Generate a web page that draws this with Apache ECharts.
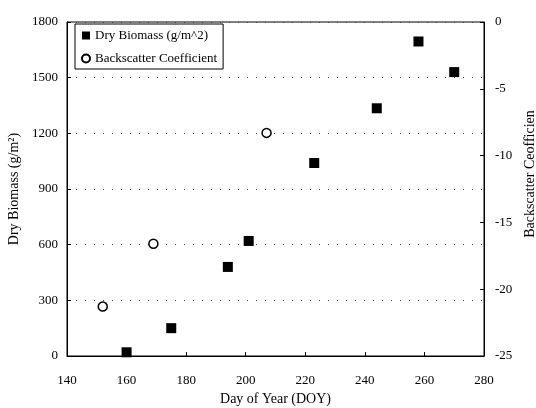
<!DOCTYPE html>
<html>
<head>
<meta charset="utf-8">
<script src="https://cdn.jsdelivr.net/npm/echarts@6/dist/echarts.min.js"></script>
<style>html,body{margin:0;padding:0;background:#fff;}#c{width:536px;height:408px;}</style>
</head>
<body>
<div id="c"></div>
<script>
var biomassDOY = [160, 175, 194, 201, 223, 244, 258, 270];
var biomass = [20, 150, 480, 620, 1040, 1335, 1695, 1530];
var backscatterDOY = [152, 169, 207];
var backscatter = [-21.3, -16.6, -8.3];

var F = 'Liberation Serif';
function zip(a, b) { return a.map(function (v, i) { return [v, b[i]]; }); }
function plain(v) { return String(v); }

var chart = echarts.init(document.getElementById('c'), null, {renderer: 'canvas'});
chart.setOption({
  animation: false,
  backgroundColor: '#fff',
  grid: {left: 67, right: 52, top: 22, bottom: 52, show: true, borderColor: '#000', borderWidth: 1,
         containLabel: false, outerBoundsMode: 'none'},
  legend: {
    orient: 'vertical', left: 75, top: 24,
    borderColor: '#000', borderWidth: 1, padding: [5, 6, 4, 6],
    itemWidth: 8, itemHeight: 8, itemGap: 10,
    textStyle: {fontFamily: F, fontSize: 13, color: '#000'},
    data: [
      {name: 'Dry Biomass (g/m^2)', icon: 'rect'},
      {name: 'Backscatter Coefficient', icon: 'circle'}
    ]
  },
  xAxis: {
    type: 'value', min: 140, max: 280, interval: 20,
    name: 'Day of Year (DOY)', nameLocation: 'middle', nameGap: 36,
    nameTextStyle: {fontFamily: F, fontSize: 14, color: '#000'},
    axisLine: {lineStyle: {color: '#000'}},
    axisTick: {inside: true, length: 4, lineStyle: {color: '#000'}},
    axisLabel: {fontFamily: F, fontSize: 13, color: '#000', margin: 18, formatter: plain},
    splitLine: {show: false}
  },
  yAxis: [{
    type: 'value', min: 0, max: 1800, interval: 300,
    name: 'Dry Biomass (g/m²)', nameLocation: 'middle', nameGap: 38,
    nameTextStyle: {fontFamily: F, fontSize: 14, color: '#000'},
    axisLine: {show: true, lineStyle: {color: '#000'}},
    axisTick: {show: true, inside: true, length: 4, lineStyle: {color: '#000'}},
    axisLabel: {fontFamily: F, fontSize: 13, color: '#000', margin: 9, formatter: plain},
    splitLine: {show: true, lineStyle: {color: '#444', type: [1, 8], width: 1}}
  }, {
    type: 'value', min: -25, max: 0, interval: 5, position: 'right',
    name: 'Backscatter Ceofficien', nameLocation: 'middle', nameGap: 35,
    nameTextStyle: {fontFamily: F, fontSize: 14, color: '#000', padding: [0, 0, 0, 30]},
    axisLine: {show: true, lineStyle: {color: '#000'}},
    axisTick: {show: true, inside: true, length: 4, lineStyle: {color: '#000'}},
    axisLabel: {fontFamily: F, fontSize: 13, color: '#000', margin: 11, formatter: plain},
    splitLine: {show: false}
  }],
  series: [{
    name: 'Dry Biomass (g/m^2)', type: 'scatter', yAxisIndex: 0,
    symbol: 'rect', symbolSize: 10,
    itemStyle: {color: '#000', opacity: 1},
    data: zip(biomassDOY, biomass)
  }, {
    name: 'Backscatter Coefficient', type: 'scatter', yAxisIndex: 1,
    symbol: 'circle', symbolSize: 9,
    itemStyle: {color: '#fff', borderColor: '#000', borderWidth: 1.5, opacity: 1},
    data: zip(backscatterDOY, backscatter)
  }]
});
</script>
</body>
</html>
